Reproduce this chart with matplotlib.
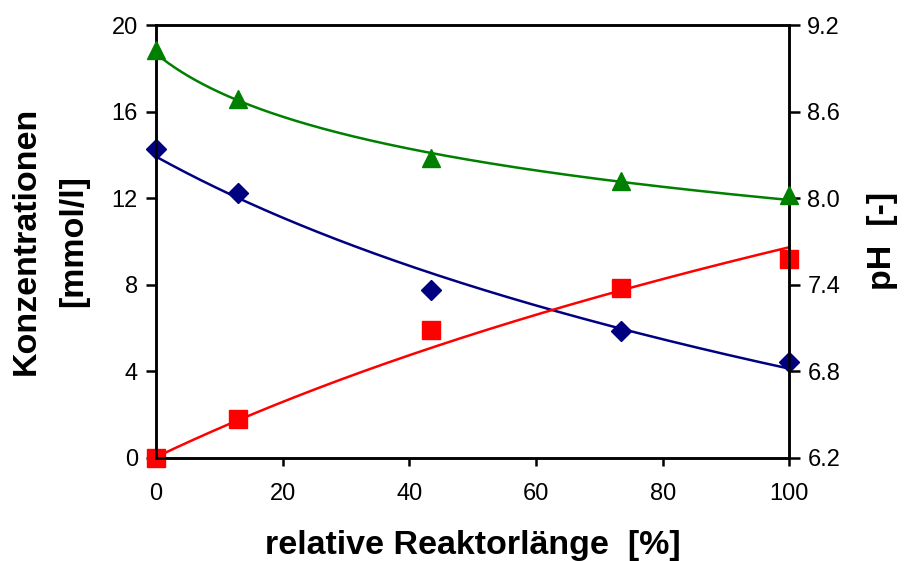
import numpy as np
import matplotlib
matplotlib.use("Agg")
import matplotlib.pyplot as plt

plt.rcParams['font.family'] = ['Liberation Sans', 'DejaVu Sans']

# Messpunkte entlang des Reaktors
laenge = [0, 13, 43.4, 73.5, 100]
konz_blau = [14.25, 12.25, 7.75, 5.85, 4.41]   # mmol/l
konz_rot = [0.0, 1.78, 5.9, 7.86, 9.19]         # mmol/l
ph_gruen = [9.03, 8.69, 8.28, 8.12, 8.02]        # pH

# Werte der Trendlinien an den Messstellen
trend_blau = [13.91, 11.99, 8.6, 5.89, 4.14]
trend_rot = [0.0, 1.74, 5.13, 7.74, 9.70]
trend_gruen = [9.00, 8.68, 8.31, 8.11, 7.99]

x_ticks = [0, 20, 40, 60, 80, 100]
y_ticks = [0, 4, 8, 12, 16, 20]
ph_ticks = [6.2, 6.8, 7.4, 8.0, 8.6, 9.2]

fig = plt.figure(figsize=(9.06, 5.61), dpi=100)
ax = fig.add_axes([0.1722, 0.1841, 0.6990, 0.7713])
ax2 = ax.twinx()

xs = np.linspace(0, 100, 300)
x = np.array(laenge)


def log_trend(werte, c):
    """Glatte Kurve a + b*ln(x + c) durch die Trendwerte."""
    b, a = np.polyfit(np.log(x + c), werte, 1)
    return a + b * np.log(xs + c)


ax.plot(xs, log_trend(trend_blau, 65), color='#000080', lw=1.8, zorder=2)
ax.plot(xs, log_trend(trend_rot, 100), color='#FF0000', lw=1.8, zorder=2)
ax2.plot(xs, log_trend(trend_gruen, 13), color='#008000', lw=1.8, zorder=2)

ax.plot(laenge, konz_blau, linestyle='none', marker='D', ms=9.8,
        color='#000080', clip_on=False, zorder=3)
ax.plot(laenge, konz_rot, linestyle='none', marker='s', ms=13,
        color='#FF0000', clip_on=False, zorder=3)
ax2.plot(laenge, ph_gruen, linestyle='none', marker='^', ms=13.5,
         color='#008000', clip_on=False, zorder=3)

ax.set_xlim(0, 100)
ax.set_ylim(0, 20)
ax2.set_ylim(6.2, 9.2)
ax.set_xticks(x_ticks)
ax.set_yticks(y_ticks)
ax2.set_yticks(ph_ticks)
ax2.set_yticklabels([f"{v:.1f}" for v in ph_ticks])

for a_ in (ax, ax2):
    for s in a_.spines.values():
        s.set_linewidth(1.8)
ax.tick_params(axis='x', direction='out', length=6, width=1.8, labelsize=17, pad=12)
ax.tick_params(axis='y', direction='out', length=7, width=1.8, labelsize=17, pad=6)
ax2.tick_params(axis='y', direction='out', length=8, width=1.8, labelsize=17, pad=5)

ax.set_xlabel("relative Reaktorlänge  [%]", fontsize=24.5, fontweight='bold', labelpad=18)
ax.set_ylabel("Konzentrationen\n[mmol/l]", fontsize=24.5, fontweight='bold',
              linespacing=1.7, labelpad=16)
ax2.set_ylabel("pH  [-]", fontsize=24.5, fontweight='bold', labelpad=19)

fig.savefig("out.png", dpi=100, facecolor='white')
